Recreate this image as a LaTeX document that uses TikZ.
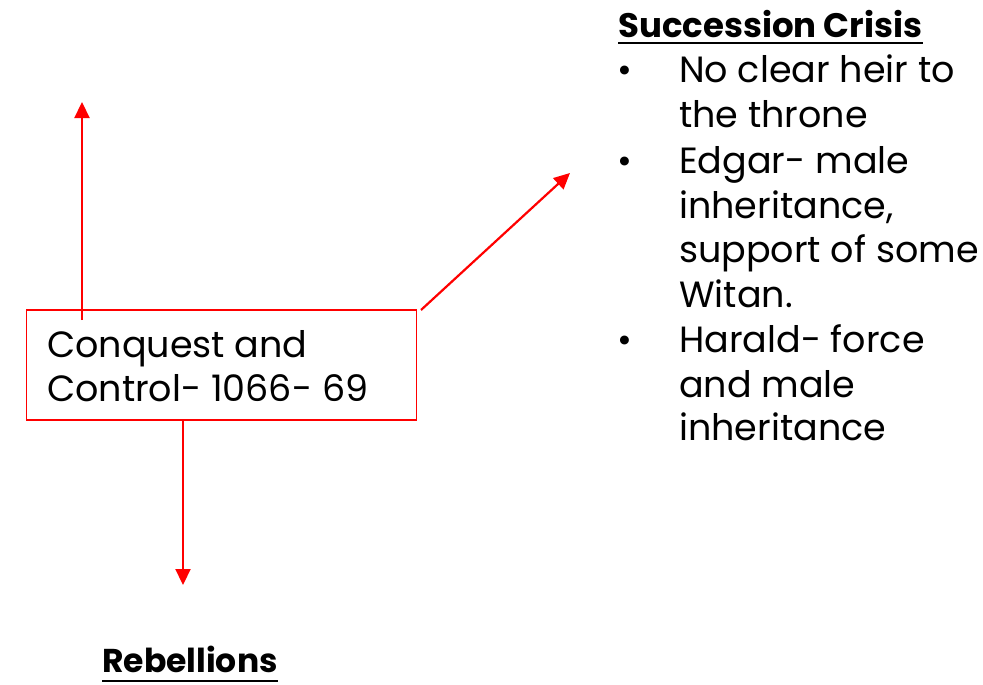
\documentclass[tikz,border=0pt]{standalone}
\usepackage{fontspec}
\setmainfont{Poppins}
\usetikzlibrary{arrows.meta}
\definecolor{arrowred}{RGB}{255,0,0}
\tikzset{
  conn/.style={draw=arrowred, line width=2.2pt, -{Triangle[length=16pt,width=15pt]}},
  txt/.style={anchor=base west, inner sep=0pt, font=\fontsize{36.5}{42}\selectfont},
  head/.style={anchor=base west, inner sep=0pt, font=\fontsize{34}{40}\selectfont\bfseries},
  bul/.style={anchor=base, inner sep=0pt, font=\fontsize{36}{42}\selectfont},
  ul/.style={line width=2.4pt, draw=black}
}
\begin{document}
\begin{tikzpicture}[x=1pt,y=-1pt]
\useasboundingbox (0,0) rectangle (983,685);
% main box
\node[draw=arrowred, line width=1.8pt, minimum width=390pt, minimum height=110pt, inner sep=0pt] (box) at (221.5,365) {};
\node[txt] (l1) at (47,357) {Conquest and};
\node[txt] (l2) at (47,401) {Control- 1066- 69};
% arrow end points
\coordinate (upS) at (82,320);
\coordinate (upE) at (82,102);
\coordinate (dgS) at (421,310);
\coordinate (dgE) at (570,173);
\coordinate (dnS) at (183,420);
\coordinate (dnE) at (183,585);
\draw[conn] (upS) -- (upE);
\draw[conn] (dgS) -- (dgE);
\draw[conn] (dnS) -- (dnE);
% Succession crisis
\node[head] (sc) at (618,38) {Succession Crisis};
\draw[ul] ([yshift=-5pt]sc.base west) -- ([yshift=-5pt]sc.base east);
\node[bul] (b1) at (625,83) {•};
\node[bul] (b2) at (625,173) {•};
\node[bul] (b3) at (625,352) {•};
\node[txt] (s1) at (679,83) {No clear heir to};
\node[txt] (s2) at (679,128) {the throne};
\node[txt] (s3) at (679,173) {Edgar- male};
\node[txt] (s4) at (679,218) {inheritance,};
\node[txt] (s5) at (679,262) {support of some};
\node[txt] (s6) at (679,307) {Witan.};
\node[txt] (s7) at (679,352) {Harald- force};
\node[txt] (s8) at (679,397) {and male};
\node[txt] (s9) at (679,440) {inheritance};
% Rebellions
\node[head, font=\fontsize{33}{38}\selectfont\bfseries] (rb) at (102,672) {Rebellions};
\draw[ul] ([yshift=-9pt]rb.base west) -- ([yshift=-9pt]rb.base east);
\end{tikzpicture}
\end{document}
